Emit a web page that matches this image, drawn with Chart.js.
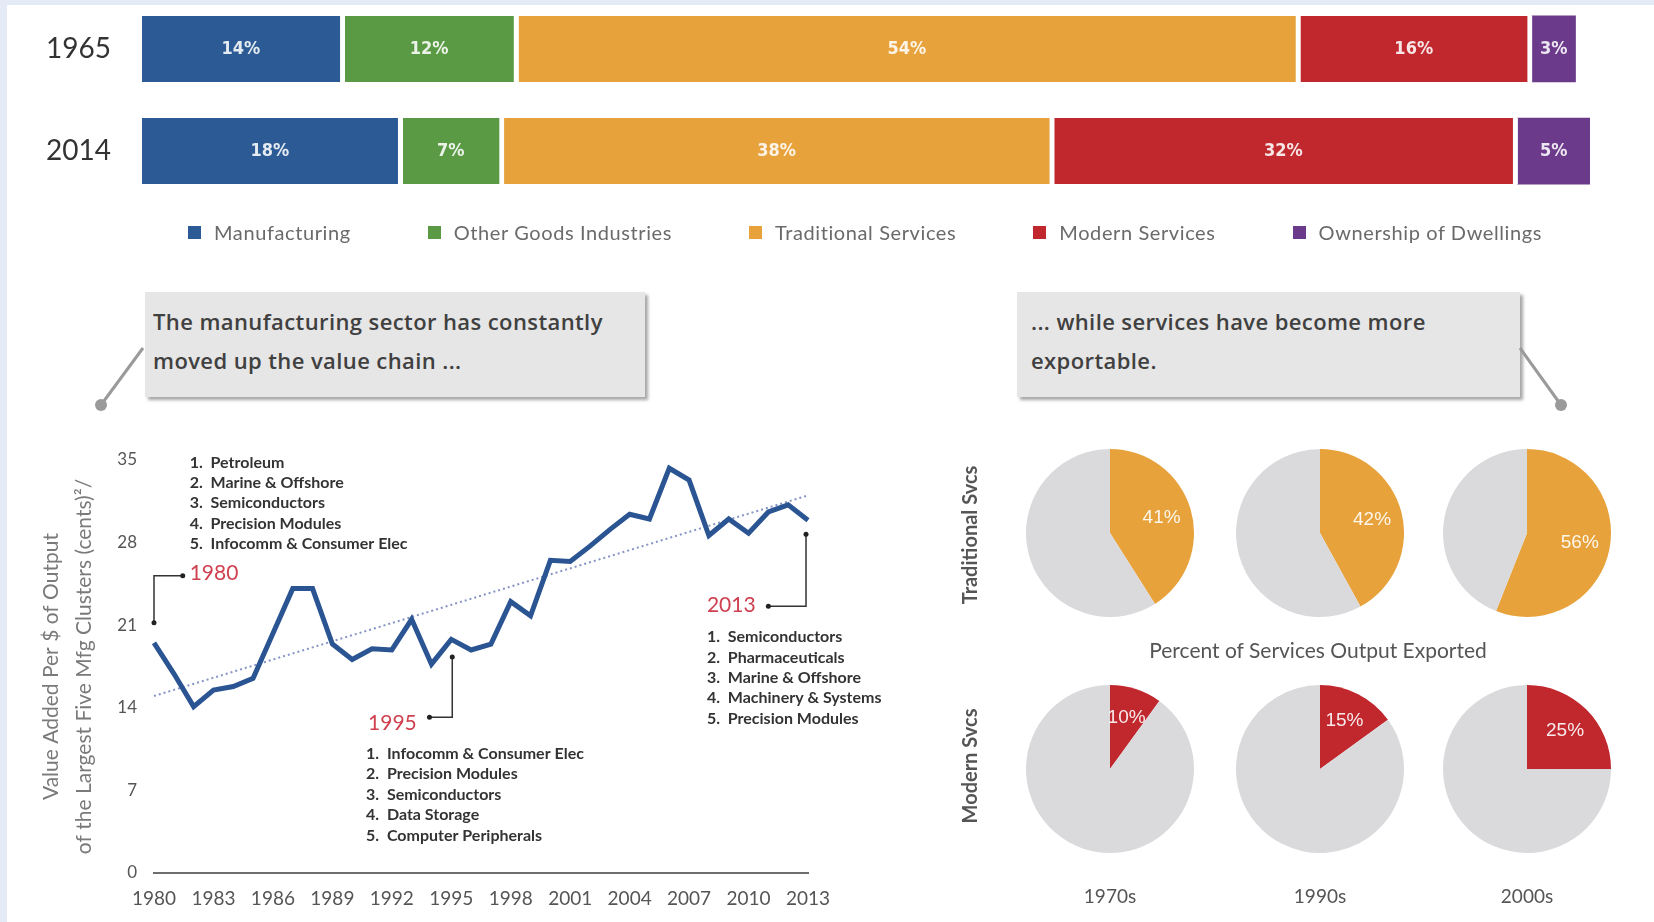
<!DOCTYPE html>
<html>
<head>
<meta charset="utf-8">
<script src="https://cdn.jsdelivr.net/npm/chart.js@4.4.1/dist/chart.umd.min.js"></script>
<style>
    html, body { margin: 0; padding: 0; }
    body {
        width: 1654px; height: 922px; position: relative; overflow: hidden;
        background: #e4ebf6; font-family: Lato, "Open Sans", sans-serif;
    }
    #panel { position: absolute; left: 7px; top: 5px; right: 0; bottom: 0; background: #fff; }
    canvas, .abs { position: absolute; }
    #legend {
        position: absolute; left: 188px; top: 220px; display: flex; gap: 77px;
        font-size: 20px; letter-spacing: 0.6px; color: #6a6a6a; white-space: nowrap;
    }
    #legend .item { display: flex; align-items: center; }
    #legend .box { width: 13px; height: 13px; margin-right: 13px; }
    .callout {
        position: absolute; box-sizing: border-box; height: 105px;
        background: #e6e6e6; box-shadow: 3px 3px 3px rgba(0, 0, 0, 0.35);
        font-family: "Open Sans", sans-serif; font-weight: 600; font-size: 22px;
        letter-spacing: 0.4px; line-height: 39px; color: #404040; padding-top: 10px;
    }
    .rowLabel {
        position: absolute; transform: translate(-50%, -50%) rotate(-90deg);
        font-size: 20px; color: #555; white-space: nowrap; font-weight: 700;
    }
    .colLabel {
        position: absolute; transform: translate(-50%, -50%);
        font-size: 19px; color: #555; white-space: nowrap;
    }
    #exportTitle { font-size: 21px; }
</style>
</head>
<body>
<div id="panel"></div>

<canvas id="barChart" width="1654" height="300" style="left:0; top:-50px;"></canvas>
<div id="legend"></div>

<div class="callout" style="left:145px; top:292px; width:500px; padding-left:8px;">The manufacturing sector has constantly<br>moved up the value chain ...</div>
<div class="callout" style="left:1017px; top:292px; width:503px; padding-left:14px;">... while services have become more<br>exportable.</div>
<svg class="abs" width="1654" height="922" style="left:0; top:0; pointer-events:none;">
    <line x1="143" y1="348" x2="101" y2="405" stroke="#9a9a9a" stroke-width="3"/>
    <circle cx="101" cy="405" r="6" fill="#9a9a9a"/>
    <line x1="1520" y1="348" x2="1561" y2="405" stroke="#9a9a9a" stroke-width="3"/>
    <circle cx="1561" cy="405" r="6" fill="#9a9a9a"/>
</svg>

<canvas id="lineChart" width="880" height="502" style="left:20px; top:420px;"></canvas>

<canvas id="pieT0" width="168" height="168" style="left:1026px; top:449px;"></canvas>
<canvas id="pieT1" width="168" height="168" style="left:1236px; top:449px;"></canvas>
<canvas id="pieT2" width="168" height="168" style="left:1443px; top:449px;"></canvas>
<canvas id="pieM0" width="168" height="168" style="left:1026px; top:685px;"></canvas>
<canvas id="pieM1" width="168" height="168" style="left:1236px; top:685px;"></canvas>
<canvas id="pieM2" width="168" height="168" style="left:1443px; top:685px;"></canvas>

<div class="rowLabel" style="left:969px; top:535px;">Traditional Svcs</div>
<div class="rowLabel" style="left:969px; top:766px;">Modern Svcs</div>
<div class="colLabel" id="exportTitle" style="left:1318px; top:649px;">Percent of Services Output Exported</div>
<div class="colLabel" style="left:1110px; top:895px;">1970s</div>
<div class="colLabel" style="left:1320px; top:895px;">1990s</div>
<div class="colLabel" style="left:1527px; top:895px;">2000s</div>

<script>
// ---- GDP composition bars ----
const barYears = ['1965', '2014'];
const sectors = ['Manufacturing', 'Other Goods Industries', 'Traditional Services', 'Modern Services', 'Ownership of Dwellings'];
const sectorColors = ['#2b5a94', '#5b9a44', '#e7a23b', '#c0282e', '#6c3a8b'];
const manufacturing = [14, 18];
const otherGoods = [12, 7];
const traditionalSvcs = [54, 38];
const modernSvcs = [16, 32];
const dwellings = [3, 5];

// ---- Value added line ----
const years = ['1980', '1981', '1982', '1983', '1984', '1985', '1986', '1987', '1988', '1989',
    '1990', '1991', '1992', '1993', '1994', '1995', '1996', '1997', '1998', '1999',
    '2000', '2001', '2002', '2003', '2004', '2005', '2006', '2007', '2008', '2009',
    '2010', '2011', '2012', '2013'];
const valueAdded = [19.5, 16.9, 14.1, 15.5, 15.8, 16.5, 20.3, 24.1, 24.1, 19.4,
    18.1, 19.0, 18.9, 21.5, 17.7, 19.8, 18.9, 19.4, 23.0, 21.8,
    26.5, 26.4, 27.7, 29.1, 30.4, 30.0, 34.3, 33.3, 28.6, 30.0,
    28.8, 30.6, 31.2, 29.9];
const trendYears = ['1980', '2013'];
const trendValues = [15.0, 32.0];
const xTickYears = ['1980', '1983', '1986', '1989', '1992', '1995', '1998', '2001', '2004', '2007', '2010', '2013'];
const yTicks = [0, 7, 14, 21, 28, 35];
const yTitle = ['Value Added Per $ of Output', 'of the Largest Five Mfg Clusters (cents)²/'];

const top1980 = ['1.  Petroleum', '2.  Marine & Offshore', '3.  Semiconductors', '4.  Precision Modules', '5.  Infocomm & Consumer Elec'];
const top1995 = ['1.  Infocomm & Consumer Elec', '2.  Precision Modules', '3.  Semiconductors', '4.  Data Storage', '5.  Computer Peripherals'];
const top2013 = ['1.  Semiconductors', '2.  Pharmaceuticals', '3.  Marine & Offshore', '4.  Machinery & Systems', '5.  Precision Modules'];

// ---- Services exported pies ----
const pieDecades = ['1970s', '1990s', '2000s'];
const traditionalExported = [41, 42, 56];
const modernExported = [10, 15, 25];


/**
 * White percentage labels in the middle of each bar segment
 */
const barLabels = {
    id: 'barLabels',
    afterDatasetsDraw(chart) {
        const ctx = chart.ctx;
        ctx.save();
        ctx.font = 'bold 18px "Liberation Sans Narrow", "DejaVu Sans Condensed", sans-serif';
        ctx.fillStyle = 'rgba(255,255,255,0.88)';
        ctx.textAlign = 'center';
        ctx.textBaseline = 'middle';
        chart.data.datasets.forEach((ds, i) => {
            chart.getDatasetMeta(i).data.forEach((bar, j) => {
                const right = ds.borderWidth.right || 0;
                ctx.fillText(ds.data[j] + '%', (bar.x - right + bar.base) / 2, bar.y);
            });
        });
        ctx.restore();
    }
};

const sectorValues = [manufacturing, otherGoods, traditionalSvcs, modernSvcs, dwellings];

new Chart(document.getElementById('barChart'), {
    type: 'bar',
    data: {
        labels: barYears,
        datasets: sectors.map((name, i) => ({
            label: name,
            data: sectorValues[i],
            backgroundColor: sectorColors[i],
            borderColor: '#ffffff',
            borderWidth: { top: 0, bottom: 0, left: 0, right: i < sectors.length - 1 ? 5 : 0 },
            borderSkipped: 'start',
            barThickness: 66
        }))
    },
    options: {
        indexAxis: 'y',
        responsive: false,
        animation: false,
        layout: { padding: { left: 0, right: 64, top: 0, bottom: 0 } },
        plugins: { legend: { display: false }, tooltip: { enabled: false } },
        scales: {
            x: { stacked: true, display: false, min: 0, max: 100 },
            y: {
                stacked: true,
                grid: { display: false, drawTicks: false },
                border: { display: false },
                ticks: { color: '#333', padding: 31, font: { family: 'Lato', size: 28 } },
                afterFit: (scale) => { scale.width = 142; }
            }
        }
    },
    plugins: [barLabels]
});

// Legend built from the same sector lists
const legendEl = document.getElementById('legend');
sectors.forEach((name, i) => {
    const item = document.createElement('div');
    item.className = 'item';
    item.innerHTML = `<span class="box" style="background:${sectorColors[i]}"></span><span>${name}</span>`;
    legendEl.appendChild(item);
});


/**
 * Annotations on the line chart: top-5 clusters and year call-outs
 */
const lineNotes = {
    id: 'lineNotes',
    afterDatasetsDraw(chart) {
        const { ctx, scales: { x, y } } = chart;
        const px = (yr) => x.getPixelForValue(yr - 1980);
        const py = (v) => y.getPixelForValue(v);
        ctx.save();

        // cluster lists
        ctx.font = 'bold 16px Lato, sans-serif';
        ctx.fillStyle = '#333';
        ctx.textAlign = 'left';
        ctx.textBaseline = 'middle';
        const list = (items, yr, v) => {
            items.forEach((t, i) => ctx.fillText(t, px(yr), py(v) + i * 20.4));
        };
        list(top1980, 1981.8, 34.8);
        list(top1995, 1990.7, 10.1);
        list(top2013, 2007.9, 20.0);

        // red years
        ctx.font = '21px Lato, sans-serif';
        ctx.fillStyle = '#cf4150';
        ctx.fillText('1980', px(1981.8), py(25.4));
        ctx.fillText('1995', px(1990.8), py(12.7));
        ctx.fillText('2013', px(2007.9), py(22.7));

        // elbow connectors with dots on both ends
        const connector = (pts) => {
            ctx.strokeStyle = '#333';
            ctx.lineWidth = 1.5;
            ctx.beginPath();
            pts.forEach((p, i) => {
                const cx = px(p[0]), cy = py(p[1]);
                if (i === 0) ctx.moveTo(cx, cy); else ctx.lineTo(cx, cy);
            });
            ctx.stroke();
            ctx.fillStyle = '#222';
            [pts[0], pts[pts.length - 1]].forEach(p => {
                ctx.beginPath();
                ctx.arc(px(p[0]), py(p[1]), 2.5, 0, Math.PI * 2);
                ctx.fill();
            });
        };
        connector([[1980, 21.2], [1980, 25.2], [1981.45, 25.2]]);
        connector([[1995.05, 18.3], [1995.05, 13.2], [1993.9, 13.2]]);
        connector([[2012.9, 28.7], [2012.9, 22.6], [2011.0, 22.6]]);

        ctx.restore();
    }
};

new Chart(document.getElementById('lineChart'), {
    type: 'line',
    data: {
        labels: years,
        datasets: [
            {
                data: valueAdded,
                borderColor: '#2b5592',
                borderWidth: 5,
                pointRadius: 0,
                tension: 0,
                fill: false
            },
            {
                data: trendYears.map((yr, i) => ({ x: yr, y: trendValues[i] })),
                borderColor: '#8594c4',
                borderWidth: 2,
                borderDash: [2, 3],
                pointRadius: 0,
                fill: false
            }
        ]
    },
    options: {
        responsive: false,
        animation: false,
        layout: { padding: { left: 0, right: 92, top: 40, bottom: 0 } },
        plugins: { legend: { display: false }, tooltip: { enabled: false } },
        scales: {
            x: {
                offset: false,
                grid: { display: false, drawTicks: false },
                border: { display: true, color: '#6e6e6e', width: 2 },
                ticks: {
                    autoSkip: false,
                    maxRotation: 0,
                    padding: 14,
                    color: '#555',
                    font: { family: 'Lato', size: 19 },
                    callback(value) {
                        const label = this.getLabelForValue(value);
                        return xTickYears.includes(label) ? label : '';
                    }
                },
                afterFit: (scale) => { scale.height = 49; }
            },
            y: {
                min: 0,
                max: 35,
                grid: { display: false, drawTicks: false },
                border: { display: false },
                afterBuildTicks: (scale) => { scale.ticks = yTicks.map(v => ({ value: v })); },
                ticks: { padding: 17, color: '#555', font: { family: 'Lato', size: 17 } },
                title: {
                    display: true,
                    text: yTitle,
                    color: '#7a7a7a',
                    font: { family: 'Lato', size: 21, lineHeight: '33px' },
                    padding: { top: 14.5, bottom: 0 }
                },
                afterFit: (scale) => { scale.width = 134; }
            }
        }
    },
    plugins: [lineNotes]
});


/**
 * Percentage label inside the coloured slice of each pie
 */
const pieLabels = {
    id: 'pieLabels',
    afterDatasetsDraw(chart) {
        const ctx = chart.ctx;
        const arc = chart.getDatasetMeta(0).data[0];
        const mid = (arc.startAngle + arc.endAngle) / 2;
        const r = arc.outerRadius * 0.64;
        ctx.save();
        ctx.font = '19px "Liberation Sans", Arial, sans-serif';
        ctx.fillStyle = 'rgba(255,255,255,0.9)';
        ctx.textAlign = 'center';
        ctx.textBaseline = 'middle';
        ctx.fillText(chart.data.datasets[0].data[0] + '%', arc.x + Math.cos(mid) * r, arc.y + Math.sin(mid) * r);
        ctx.restore();
    }
};

function drawPie(id, share, color) {
    new Chart(document.getElementById(id), {
        type: 'pie',
        data: {
            labels: ['Exported', 'Not exported'],
            datasets: [{
                data: [share, 100 - share],
                backgroundColor: [color, '#dadadd'],
                borderWidth: 0,
                hoverOffset: 0
            }]
        },
        options: {
            responsive: false,
            animation: false,
            plugins: { legend: { display: false }, tooltip: { enabled: false } }
        },
        plugins: [pieLabels]
    });
}

pieDecades.forEach((decade, i) => {
    drawPie('pieT' + i, traditionalExported[i], '#e7a23b');
    drawPie('pieM' + i, modernExported[i], '#c0282e');
});
</script>
</body>
</html>
